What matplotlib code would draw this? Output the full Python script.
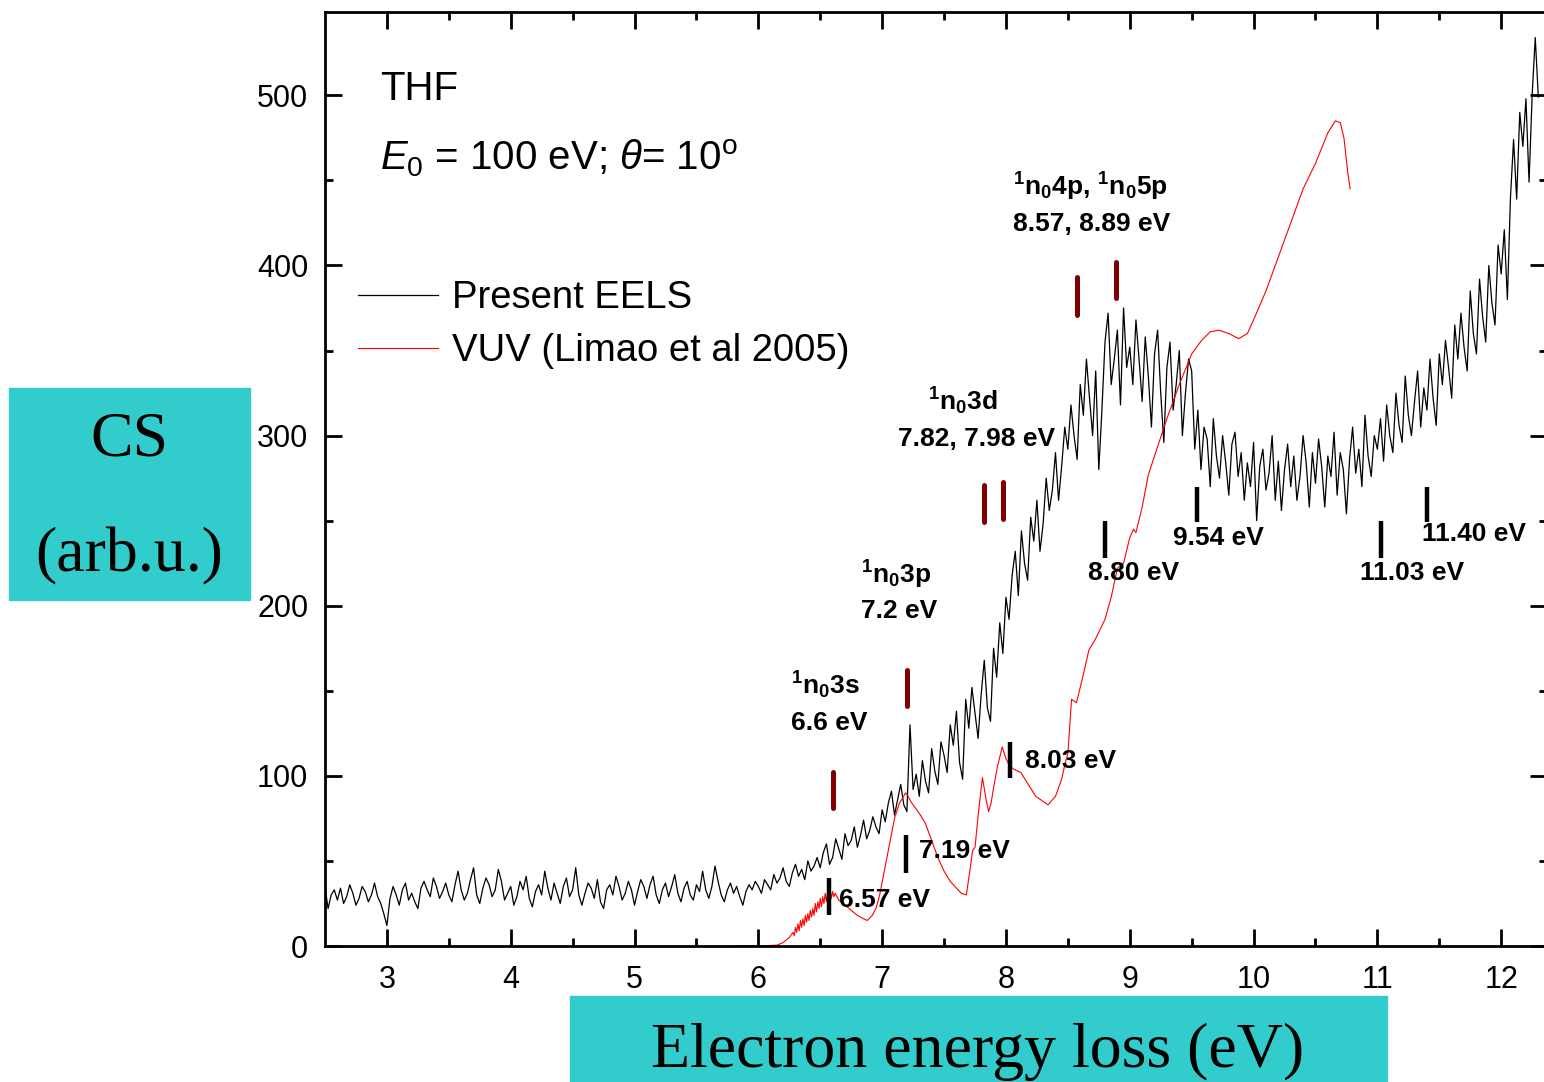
import numpy as np
import matplotlib
matplotlib.use("Agg")
import matplotlib.pyplot as plt
from matplotlib.patches import Rectangle

plt.rcParams['font.family'] = ['Liberation Sans', 'DejaVu Sans']
plt.rcParams['mathtext.fontset'] = 'custom'
plt.rcParams['mathtext.rm'] = 'Liberation Sans'
plt.rcParams['mathtext.it'] = 'Liberation Sans:italic'
plt.rcParams['mathtext.bf'] = 'Liberation Sans:bold'

# EELS spectrum, 0.025 eV steps starting at 2.5 eV
eels_start = 2.5
eels_step = 0.025
eels_cs = [
    35, 22, 30, 33, 27, 34, 25, 29, 36, 31, 24, 28, 35, 32, 26, 30, 37, 29, 25, 19,
    12, 28, 35, 30, 24, 33, 37, 27, 31, 26, 22, 34, 38, 33, 29, 40, 35, 28, 32, 37,
    30, 26, 36, 44, 33, 27, 31, 39, 46, 30, 25, 34, 40, 36, 29, 33, 45, 38, 27, 31,
    35, 24, 29, 38, 33, 41, 28, 23, 32, 36, 30, 44, 34, 27, 37, 31, 25, 35, 40, 29,
    33, 46, 30, 24, 31, 37, 34, 28, 39, 26, 22, 33, 36, 30, 41, 35, 27, 31, 38, 33,
    24, 32, 39, 35, 28, 36, 41, 30, 25, 33, 37, 29, 35, 42, 31, 26, 34, 38, 30, 27,
    36, 32, 44, 33, 28, 35, 47, 38, 30, 26, 33, 37, 31, 35, 29, 24, 32, 36, 33, 38,
    35, 31, 39, 36, 33, 42, 37, 40, 46, 38, 35, 43, 48, 41, 45, 39, 50, 44, 47, 52,
    46, 55, 60, 48, 52, 63, 57, 51, 66, 59, 62, 70, 58, 65, 74, 63, 68, 76, 70, 66,
    80, 73, 84, 91, 77, 86, 95, 83, 79, 130, 92, 101, 88, 109, 97, 90, 116, 103, 95, 120,
    112, 102, 130, 118, 138, 108, 98, 145, 128, 152, 137, 122, 148, 168, 140, 132, 175, 158, 190, 172,
    205, 192, 218, 232, 206, 244, 225, 215, 252, 238, 262, 232, 248, 275, 256, 268, 290, 262, 282, 305,
    292, 318, 300, 286, 330, 312, 345, 322, 300, 338, 280, 315, 355, 372, 330, 345, 362, 318, 375, 340,
    352, 330, 368, 345, 320, 358, 335, 305, 348, 362, 325, 296, 340, 355, 315, 330, 350, 300, 325, 345,
    338, 292, 315, 280, 305, 298, 270, 310, 288, 275, 300, 284, 265, 295, 302, 276, 290, 262, 284, 270,
    296, 250, 282, 292, 268, 278, 300, 262, 285, 256, 280, 295, 270, 288, 262, 276, 300, 284, 258, 290,
    272, 298, 282, 258, 288, 276, 302, 265, 290, 280, 254, 286, 305, 278, 292, 270, 312, 288, 276, 300,
    292, 310, 285, 318, 300, 290, 325, 306, 296, 335, 312, 300, 320, 338, 305, 328, 315, 345, 322, 306,
    348, 330, 356, 340, 322, 365, 345, 372, 352, 338, 385, 360, 348, 392, 370, 355, 400, 378, 365, 412,
    395, 421, 380, 440, 474, 439, 490, 470, 498, 449, 500, 534, 499,
]

# VUV (Limao et al 2005)
vuv_e = [5.80, 6.00, 6.15, 6.20, 6.25,
         6.28, 6.29, 6.30, 6.31, 6.32, 6.33, 6.34, 6.35, 6.36, 6.37, 6.38, 6.39,
         6.40, 6.41, 6.42, 6.43, 6.44, 6.45, 6.46, 6.47, 6.48, 6.49, 6.50, 6.51,
         6.52, 6.53, 6.54, 6.55, 6.56, 6.57, 6.58, 6.59, 6.60, 6.61, 6.62,
         6.65, 6.70, 6.75, 6.80, 6.85, 6.88, 6.92, 6.95, 6.98, 7.02, 7.06, 7.10,
         7.14, 7.19, 7.21, 7.23, 7.26, 7.30, 7.35, 7.40, 7.45, 7.50, 7.55, 7.60,
         7.64, 7.68, 7.71, 7.73, 7.75, 7.78, 7.81, 7.84, 7.86, 7.88, 7.90, 7.93,
         7.97, 8.00, 8.03, 8.06, 8.12, 8.18, 8.24, 8.30, 8.34, 8.40, 8.45, 8.48,
         8.50, 8.53, 8.57, 8.62, 8.67, 8.72, 8.80, 8.85, 8.90, 8.95, 9.00, 9.03,
         9.05, 9.10, 9.15, 9.20, 9.30, 9.40, 9.50, 9.58, 9.65, 9.72, 9.80, 9.88,
         9.95, 10.00, 10.10, 10.20, 10.30, 10.40, 10.50, 10.60, 10.66, 10.70,
         10.73, 10.76, 10.78]
vuv_cs = [0, 0, 0.5, 2, 5,
          8, 6, 11, 8, 13, 9, 15, 11, 16, 12, 18, 14,
          19, 15, 21, 17, 22, 18, 25, 20, 26, 22, 28, 23,
          29, 25, 31, 26, 32, 27, 33, 28, 32, 29, 31,
          27, 24, 21, 18, 16, 15, 18, 22, 30, 45, 60, 75,
          84, 90, 88, 85, 82, 78, 72, 62, 52, 44, 38, 34,
          31, 30, 45, 56, 58, 80, 99, 86, 79, 84, 93, 105,
          117, 110, 106, 104, 102, 95, 88, 85, 83, 88, 98, 108,
          113, 145, 143, 158, 174, 180, 192, 205, 222, 225, 240, 245,
          243, 258, 277, 288, 310, 330, 348, 356, 361, 362, 360, 357,
          360, 368, 385, 405, 425, 445, 460, 478, 485, 484,
          475, 455, 445]

# marker bars: assignments (maroon) and VUV / EELS features (black)
assign_e = [6.60, 7.20, 7.82, 7.98, 8.57, 8.89]
assign_lo = [81, 141, 249, 251, 371, 381]
assign_hi = [102, 162, 271, 273, 393, 402]

feat_e = [6.57, 7.19, 8.03, 8.80, 9.54, 11.03, 11.40]
feat_lo = [18, 43, 99, 228, 249, 228, 249]
feat_hi = [40, 65, 120, 250, 270, 250, 270]
feat_labels = ['6.57 eV', '7.19 eV', '8.03 eV', '8.80 eV', '9.54 eV', '11.03 eV', '11.40 eV']
feat_lx = [6.65, 7.30, 8.15, 8.66, 9.35, 10.86, 11.36]
feat_ly = [27, 56, 109, 219, 240, 219, 242]

W, H = 1544, 1082
fig = plt.figure(figsize=(W / 100, H / 100), dpi=100)
ax = fig.add_axes([325 / W, (H - 946) / H, 1222 / W, 934 / H])

eels_e = eels_start + eels_step * np.arange(len(eels_cs))
ax.plot(eels_e, eels_cs, color='black', lw=0.9, label='Present EELS')
ax.plot(vuv_e, vuv_cs, color='red', lw=0.8, label='VUV (Limao et al 2005)')

ax.vlines(assign_e, assign_lo, assign_hi, color='#800000', lw=3.6, capstyle='round')
ax.vlines(feat_e, feat_lo, feat_hi, color='black', lw=3.2, capstyle='butt')
for lx, ly, s in zip(feat_lx, feat_ly, feat_labels):
    ax.text(lx, ly, s, fontsize=19, fontweight='bold', va='center', ha='left')

# assignment labels
bold = dict(fontsize=19, fontweight='bold', ha='left', va='baseline')
ax.text(6.26, 148, r'$\mathbf{^1n_03s}$', **bold)
ax.text(6.26, 127, '6.6 eV', **bold)
ax.text(6.83, 213, r'$\mathbf{^1n_03p}$', **bold)
ax.text(6.83, 193, '7.2 eV', **bold)
ax.text(7.37, 315, r'$\mathbf{^1n_03d}$', **bold)
ax.text(7.13, 294, '7.82, 7.98 eV', **bold)
ax.text(8.06, 441, r'$\mathbf{^1n_04p,\,^1n_05p}$', **bold)
ax.text(8.06, 420, '8.57, 8.89 eV', **bold)

ax.text(2.945, 497, 'THF', fontsize=29, va='baseline')
ax.text(2.945, 456, r'$E_{\mathit{0}}$ = 100 eV; $\theta$= 10$^\mathrm{o}$', fontsize=29,
        va='baseline')

ax.legend(loc='upper left', bbox_to_anchor=(0.027, 0.713), frameon=False,
          fontsize=27.5, handlelength=2.1, handletextpad=0.35, labelspacing=0.45,
          borderpad=0, borderaxespad=0)

ax.set_xlim(2.5, 12.37)
ax.set_ylim(0, 549)
ax.set_xticks(range(3, 13))
ax.set_xticks(np.arange(3.5, 12.5, 1.0), minor=True)
ax.set_yticks(range(0, 501, 100))
ax.set_yticks(range(50, 550, 100), minor=True)
ax.tick_params(which='both', direction='in', top=True, right=True, width=2)
ax.tick_params(which='major', length=12, labelsize=22)
ax.tick_params(axis='x', which='major', pad=14)
ax.tick_params(axis='y', which='major', pad=12)
ax.tick_params(which='minor', length=6)
for sp in ax.spines.values():
    sp.set_linewidth(2)

# teal label boxes
teal = '#33CCCC'
fig.patches.append(Rectangle((9 / W, (H - 600) / H), 241 / W, 212 / H,
                             transform=fig.transFigure, color=teal, zorder=0))
fig.text(129.5 / W, (H - 440) / H, 'CS', family='Liberation Serif', fontsize=46,
         ha='center', va='center')
fig.text(129.5 / W, (H - 556) / H, '(arb.u.)', family='Liberation Serif', fontsize=46,
         ha='center', va='center')
fig.patches.append(Rectangle((570 / W, 0), 817 / W, 86 / H,
                             transform=fig.transFigure, color=teal, zorder=0))
fig.text(978 / W, (H - 1052) / H, 'Electron energy loss (eV)', family='Liberation Serif',
         fontsize=46, ha='center', va='center')

fig.savefig('out.png', dpi=100)
